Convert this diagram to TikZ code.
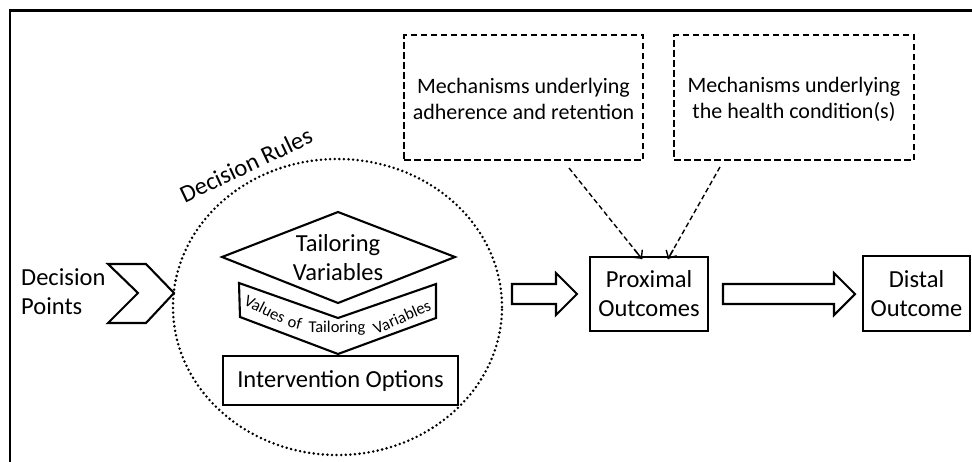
\documentclass[tikz,border=0pt]{standalone}
\usepackage{fontspec}
\setmainfont{Carlito}
\usetikzlibrary{arrows.meta,calc}
\tikzset{
  big/.style={font=\fontsize{24.5}{29}\selectfont, align=center, inner sep=0pt},
  mech/.style={font=\fontsize{22}{26}\selectfont, align=center, inner sep=0pt},
  small/.style={font=\fontsize{16.5}{18}\selectfont, inner sep=0pt},
  solidline/.style={draw=black, line width=2.1pt, line join=miter},
  dashbox/.style={draw=black, line width=1.9pt, dash pattern=on 6.5pt off 3.5pt},
  dashline/.style={draw=black, line width=1.4pt, dash pattern=on 5pt off 3pt},
  headtip/.style={draw=black, line width=1.4pt, solid, -{Straight Barb[length=6pt,width=12pt,line width=1.4pt]}},
  dotted ellipse/.style={line width=2.8pt, dash pattern=on 0pt off 4.6pt, line cap=round},
}
\begin{document}
\begin{tikzpicture}[x=1pt,y=-1pt]
\useasboundingbox (0,0) rectangle (972,461);
% outer frame (cropped)
\draw[line width=2.2pt] (10,462) -- (10,10.5) -- (973,10.5);

% dashed boxes
\node[dashbox, minimum width=239pt, minimum height=125pt] (mechA) at (523.5,97.5) {};
\node[mech] (mechAt) at (523.5,99) {Mechanisms underlying\\adherence and retention};
\node[dashbox, minimum width=240pt, minimum height=125pt] (mechB) at (794,97.5) {};
\node[mech] (mechBt) at (794,99) {Mechanisms underlying\\the health condition(s)};

% proximal and distal boxes
\node[solidline, minimum width=118pt, minimum height=74pt, big] (prox) at (649,294) {Proximal\\Outcomes};
\node[solidline, minimum width=107pt, minimum height=75pt, big] (dist) at (916.5,293.5) {Distal\\Outcome};

% dashed arrows
\coordinate (a1s) at (569,168);
\coordinate (a2s) at (720,167);
\coordinate (a1e) at ([xshift=-7pt,yshift=-3pt]prox.north);
\coordinate (a2e) at ([xshift=19pt,yshift=-3pt]prox.north);
\draw[dashline] (a1s) -- (a1e);
\draw[dashline] (a2s) -- (a2e);
\draw[headtip] ($(a1s)!0.9!(a1e)$) -- (a1e);
\draw[headtip] ($(a2s)!0.9!(a2e)$) -- (a2e);

% dotted ellipse (decision rules)
\coordinate (rules) at (337.5,307);
\draw[dotted ellipse] (rules) ellipse [x radius=164.5pt, y radius=148pt];
\node[big, rotate=25.4] (rulest) at (246,165) {Decision Rules};

% decision points chevron
\coordinate (c1) at (108,264);
\coordinate (c2) at (146,264);
\coordinate (c3) at (174,293);
\coordinate (c4) at (146,323);
\coordinate (c5) at (108,323);
\coordinate (c6) at (138,293);
\draw[solidline] (c1) -- (c2) -- (c3) -- (c4) -- (c5) -- (c6) -- cycle;
\node[big, align=left, anchor=west] (dpoints) at (21,291.5) {Decision\\Points};

% tailoring variables diamond
\coordinate (d1) at (222,257);
\coordinate (d2) at (338,212);
\coordinate (d3) at (455,257);
\coordinate (d4) at (338,303);
\draw[solidline] (d1) -- (d2) -- (d3) -- (d4) -- cycle;
\node[big] (tv) at (338,258) {Tailoring\\Variables};

% values chevron
\coordinate (v1) at (239,283);
\coordinate (v2) at (338,318);
\coordinate (v3) at (436,284);
\coordinate (v4) at (436,318);
\coordinate (v5) at (338,354);
\coordinate (v6) at (240,317);
\draw[solidline] (v1) -- (v2) -- (v3) -- (v4) -- (v5) -- (v6) -- cycle;
\node[small, rotate=-27] (val1) at (265,309) {Values};
\node[small, rotate=-14] (val2) at (295,323) {of};
\node[small] (val3) at (337,328) {Tailoring};
\node[small, rotate=24] (val4) at (402,317) {Variables};

% intervention options
\node[solidline, minimum width=235pt, minimum height=49pt, big] (io) at (340.5,380.5) {Intervention Options};

% block arrows
\draw[solidline] (512,284) -- (556,284) -- (556,273) -- (577,294) -- (556,315) -- (556,304) -- (512,304) -- cycle;
\draw[solidline] (723,284) -- (834,284) -- (834,273) -- (855,294) -- (834,315) -- (834,304) -- (723,304) -- cycle;
\end{tikzpicture}
\end{document}
